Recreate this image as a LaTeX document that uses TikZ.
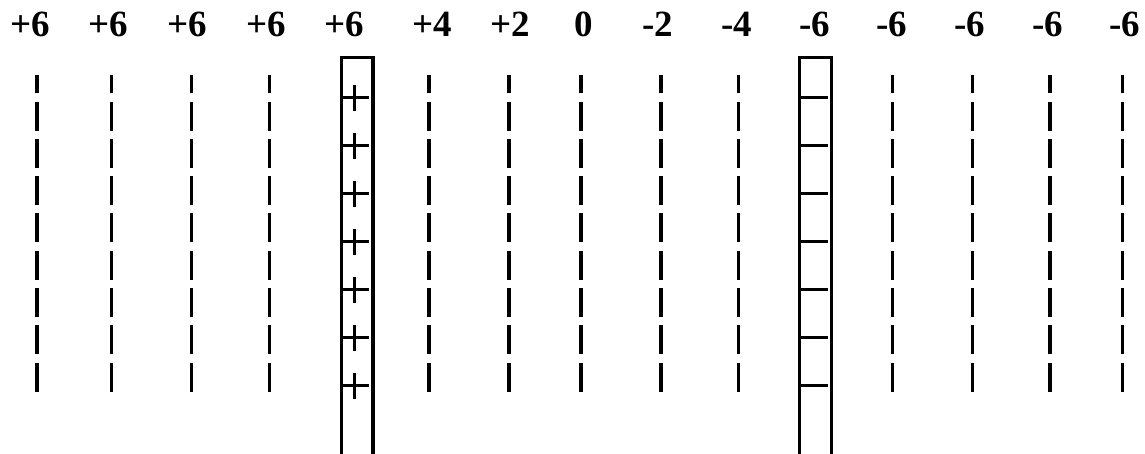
\documentclass[tikz,border=0pt]{standalone}
\usepackage{fontspec}
\setmainfont{Liberation Serif}
\begin{document}
\begin{tikzpicture}[x=1pt,y=-1pt,
  lbl/.style={anchor=base,inner sep=0pt,font=\fontsize{37}{37}\selectfont\bfseries},
  fieldline/.style={line width=3.2pt,dash pattern=on 29pt off 8.3pt},
  plate/.style={line width=3.2pt},
  sign/.style={line width=3pt}]
\useasboundingbox (0,0) rectangle (1145,454);
% labels
\foreach \x/\t [count=\i] in {30/+6,108/+6,187/+6,266/+6,344/+6,432/+4,510.5/+2,583.5/0,658/-2,736.7/-4,814.5/-6,892/-6,970/-6,1047.7/-6,1125/-6}
  \node[lbl] (L\i) at (\x,37) {\t};
% dashed field lines
\foreach \x in {37,111.7,191.7,269.3,429,509,581,661,738.3,892.7,972.7,1050,1122.7}
  \draw[fieldline] (\x,391.7) -- (\x,75);
% positive plate
\draw[plate] (341.2,456) -- (341.2,57.5) -- (373,57.5) -- (373,456);
% negative plate
\draw[plate] (799.8,456) -- (799.8,57.5) -- (831.5,57.5) -- (831.5,456);
% signs
\foreach \k in {0,...,6}{
  \pgfmathsetmacro{\yy}{97.7+48*\k}
  \draw[sign] (342.7,\yy) -- (369,\yy);
  \draw[sign] (354,\yy-13) -- (354,\yy+13);
  \draw[sign] (800.7,\yy) -- (827.7,\yy);
}
\end{tikzpicture}
\end{document}
